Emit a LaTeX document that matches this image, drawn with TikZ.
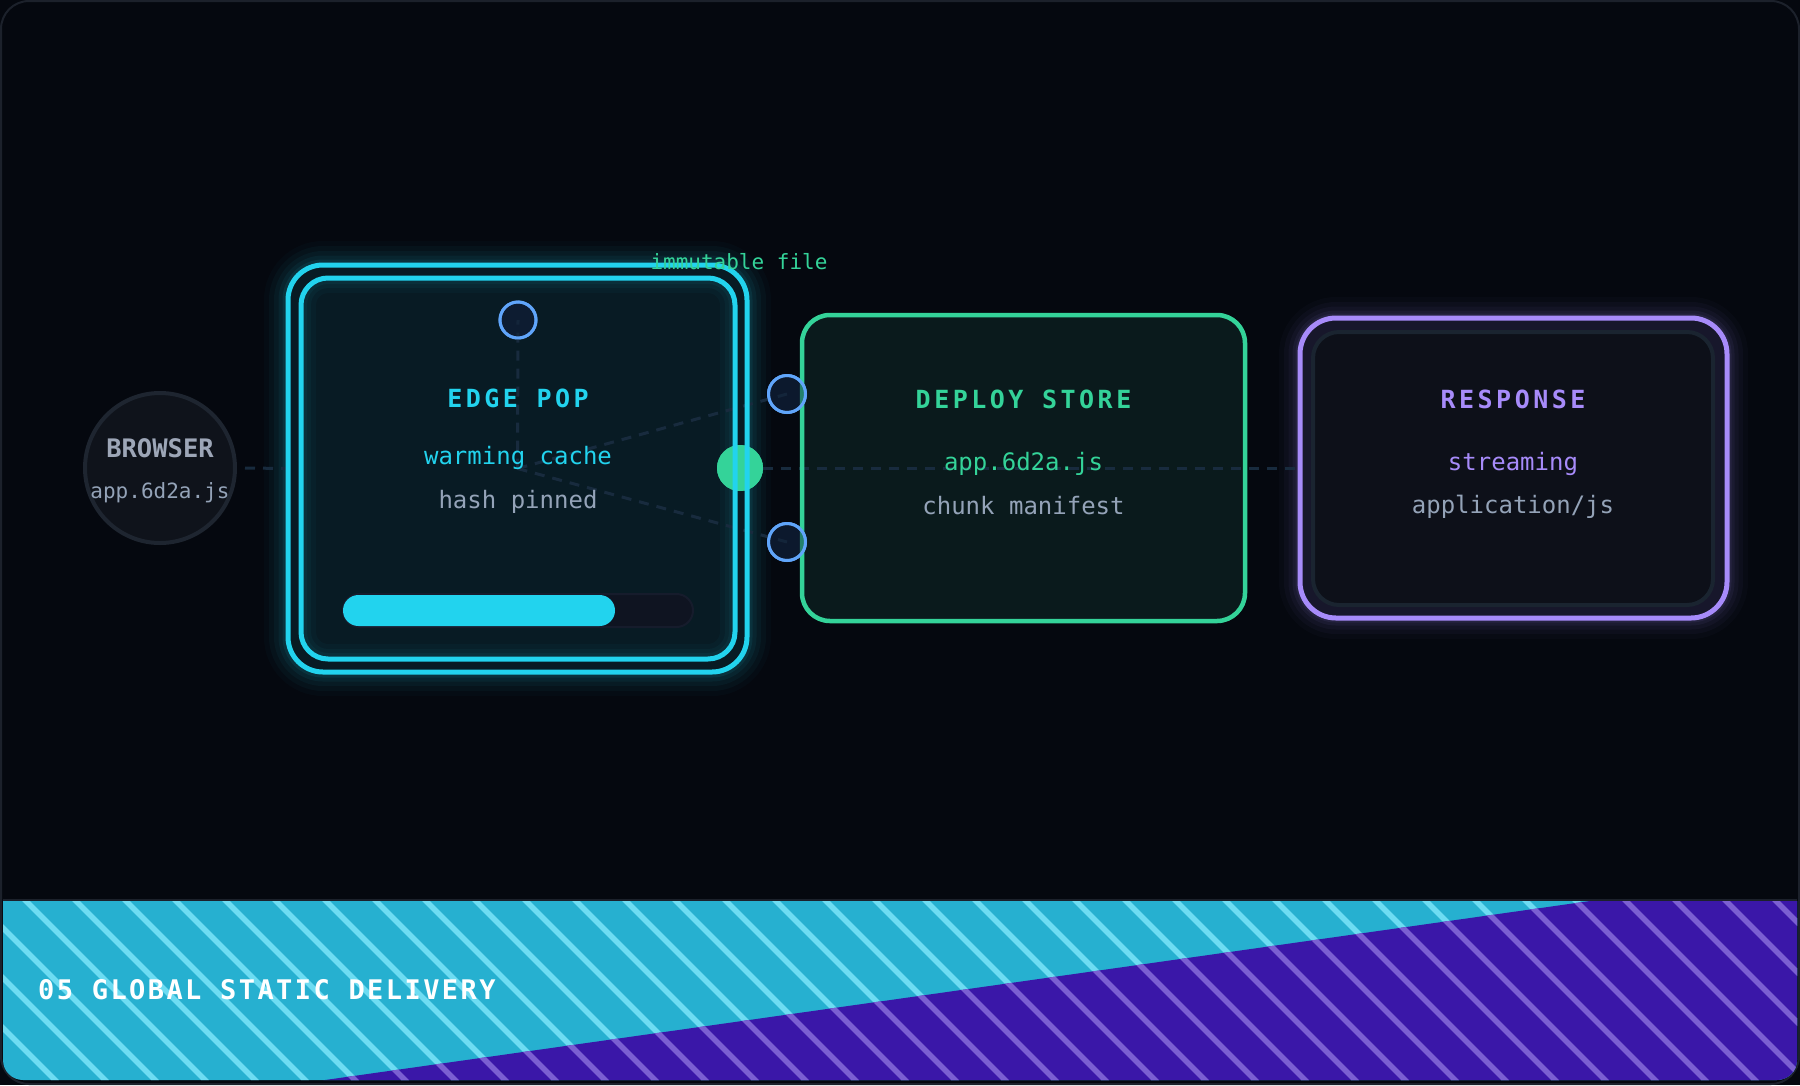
\documentclass[tikz,border=0pt]{standalone}
\usepackage{fontspec}
\setmainfont{DejaVu Sans Mono}
\newfontfamily\titlesp[LetterSpace=14]{DejaVu Sans Mono}
\newfontfamily\footsp[LetterSpace=9]{DejaVu Sans Mono}
\definecolor{bgc}{HTML}{05080F}
\definecolor{framec}{HTML}{1C212B}
\definecolor{cyanc}{HTML}{22D3EE}
\definecolor{edgefill}{HTML}{081B24}
\definecolor{greenc}{HTML}{34D399}
\definecolor{deployfill}{HTML}{0A1A1C}
\definecolor{purplec}{HTML}{A78BFA}
\definecolor{respfill}{HTML}{0D1019}
\definecolor{respgap}{HTML}{17172B}
\definecolor{respinner}{HTML}{1A2430}
\definecolor{greytext}{HTML}{94A3B8}
\definecolor{browsertext}{HTML}{9DA6B7}
\definecolor{browserfill}{HTML}{0F131B}
\definecolor{browserstroke}{HTML}{1E2530}
\definecolor{dashc}{HTML}{182B3E}
\definecolor{bluec}{HTML}{60A5FA}
\definecolor{bluefill}{HTML}{0F1E36}
\definecolor{footcyan}{HTML}{26B0D0}
\definecolor{footcyanlight}{HTML}{6DDCF2}
\definecolor{footpurple}{HTML}{3A17A8}
\definecolor{footpurplelight}{HTML}{7B5FD2}
\definecolor{trackfill}{HTML}{0F1421}
\definecolor{trackstroke}{HTML}{161C2C}
\begin{document}
\begin{tikzpicture}[x=1pt,y=-1pt,
  shapebox/.style={rectangle, outer sep=0pt, inner sep=0pt},
  dashline/.style={draw=dashc, line width=3pt, dash pattern=on 10pt off 8pt},
  dotnode/.style={circle, outer sep=0pt, inner sep=0pt},
  portnode/.style={circle, outer sep=0pt, inner sep=0pt, minimum size=37pt, draw=bluec, line width=3pt, fill=bluefill, fill opacity=0.6},
  titletext/.style={font=\titlesp\bfseries\fontsize{25}{30}\selectfont, anchor=base, inner sep=0pt},
  subtext/.style={font=\fontsize{24}{28}\selectfont, anchor=base, inner sep=0pt},
]
\useasboundingbox (0,0) rectangle (1800,1085);
\fill[bgc] (0,0) rectangle (1800,1085);
\draw[framec, line width=2pt, rounded corners=28pt] (1,1) rectangle (1799,1084);

% footer
\begin{scope}
  \clip[rounded corners=20pt] (3,860) rectangle (1797,1080);
  \clip (3,901) rectangle (1797,1080);
  \fill[footcyan] (0,895) rectangle (1800,1085);
  \foreach \k in {-4,...,36}
    \draw[footcyanlight, line width=5.5pt] ({20+50*\k},895) -- ({210+50*\k},1085);
  \fill[footpurple] (0,1126) -- (1800,871.3) -- (1800,1100) -- (0,1100) -- cycle;
  \begin{scope}
    \clip (0,1126) -- (1800,871.3) -- (1800,1100) -- (0,1100) -- cycle;
    \foreach \k in {-4,...,36}
      \draw[footpurplelight, line width=5.5pt] ({20+50*\k},895) -- ({210+50*\k},1085);
  \end{scope}
\end{scope}
\draw[framec, line width=2pt] (3,900) -- (1797,900);
\node[font=\footsp\bfseries\fontsize{27}{32}\selectfont, text=white, anchor=base west, inner sep=0pt] (foot) at (38,999) {05 GLOBAL STATIC DELIVERY};

% glows
\foreach \w/\o in {48/0.025, 38/0.035, 28/0.045, 19/0.06, 11/0.08}
  \draw[cyanc, opacity=\o, line width=\w pt, rounded corners=35pt] (288,265) rectangle (747,672);
\foreach \w/\o in {42/0.025, 32/0.035, 23/0.045, 15/0.06, 9/0.08}
  \draw[purplec, opacity=\o, line width=\w pt, rounded corners=36pt] (1300,318) rectangle (1727,618);

% boxes (fills)
\node[shapebox, minimum width=459pt, minimum height=407pt, rounded corners=35pt, fill=edgefill] (edgeo) at (517.5,468.5) {};
\node[shapebox, minimum width=434pt, minimum height=381pt, rounded corners=27pt, fill=edgefill] (edgei) at (518,468.5) {};
\begin{scope}
  \clip[rounded corners=27pt] (edgei.south west) rectangle (edgei.north east);
  \foreach \w/\o in {30/0.03, 20/0.04, 12/0.05}
    \draw[cyanc, opacity=\o, line width=\w pt, rounded corners=27pt] (edgei.south west) rectangle (edgei.north east);
\end{scope}
\node[shapebox, minimum width=443pt, minimum height=306pt, rounded corners=28pt, fill=deployfill] (deploy) at (1023.5,468) {};
\node[shapebox, minimum width=427pt, minimum height=300pt, rounded corners=36pt, fill=respgap] (respo) at (1513.5,468) {};
\node[shapebox, minimum width=400pt, minimum height=273pt, rounded corners=26pt, fill=respfill, draw=respinner, line width=4pt] (respi) at (1513,468.5) {};

% browser
\node[dotnode, minimum size=150pt, fill=browserfill, draw=browserstroke, line width=4pt] (browser) at (160,468) {};

% connectors
\node[dotnode, minimum size=46pt, fill=greenc] (green) at (740,468) {};
\draw[dashline] ([xshift=10pt]browser.east) -- (edgeo.west);
\draw[dashline] (green.east) -- (respo.west);
\coordinate (hub) at (edgeo.center);
\node[portnode, minimum size=36pt] (ptop) at (518,320) {};
\node[portnode] (pup) at (787,394) {};
\node[portnode] (pdown) at (787,542) {};
\draw[dashline] (hub) -- (ptop.center);
\draw[dashline] (hub) -- (pup.center);
\draw[dashline] (hub) -- (pdown.center);
\node[dotnode, minimum size=46pt, fill=greenc] at (green.center) {};

% borders
\draw[cyanc, line width=5pt, rounded corners=35pt] (edgeo.south west) rectangle (edgeo.north east);
\draw[cyanc, line width=5pt, rounded corners=27pt] (edgei.south west) rectangle (edgei.north east);
\draw[greenc, line width=4.5pt, rounded corners=28pt] (deploy.south west) rectangle (deploy.north east);
\draw[purplec, line width=5pt, rounded corners=36pt] (respo.south west) rectangle (respo.north east);
\node[portnode, fill opacity=0.45, minimum size=36pt] at (ptop.center) {};
\node[portnode, fill opacity=0.45] at (pup.center) {};
\node[portnode, fill opacity=0.45] at (pdown.center) {};

% progress bar
\node[shapebox, minimum width=350pt, minimum height=33pt, rounded corners=16.5pt, fill=trackfill, draw=trackstroke, line width=2pt] (track) at (518,610.5) {};
\node[shapebox, minimum width=272pt, minimum height=31pt, rounded corners=15.5pt, fill=cyanc, anchor=west] (bar) at (track.west) {};

% texts
\node[font=\bfseries\fontsize{25.5}{30}\selectfont, text=browsertext, anchor=base, inner sep=0pt] (browsertitle) at (160,457.5) {BROWSER};
\node[font=\fontsize{21}{25}\selectfont, text=greytext, anchor=base, inner sep=0pt] (browsersub) at (160,498) {app.6d2a.js};
\node[font=\fontsize{21}{25}\selectfont, text=greenc, anchor=base, inner sep=0pt] (immut) at (739,269) {immutable file};

\node[titletext, text=cyanc] (edgetitle) at (518,407.5) {EDGE POP};
\node[subtext, text=cyanc] (edgea) at (518,464) {warming cache};
\node[subtext, text=greytext] (edgeb) at (518,508) {hash pinned};

\node[titletext, text=greenc] (deploytitle) at (1023.5,408) {DEPLOY STORE};
\node[subtext, text=greenc] (deploya) at (1023.5,470) {app.6d2a.js};
\node[subtext, text=greytext] (deployb) at (1023.5,514) {chunk manifest};

\node[titletext, text=purplec] (resptitle) at (1513,408) {RESPONSE};
\node[subtext, text=purplec] (respa) at (1513,470) {streaming};
\node[subtext, text=greytext] (respb) at (1513,513) {application/js};
\end{tikzpicture}
\end{document}
